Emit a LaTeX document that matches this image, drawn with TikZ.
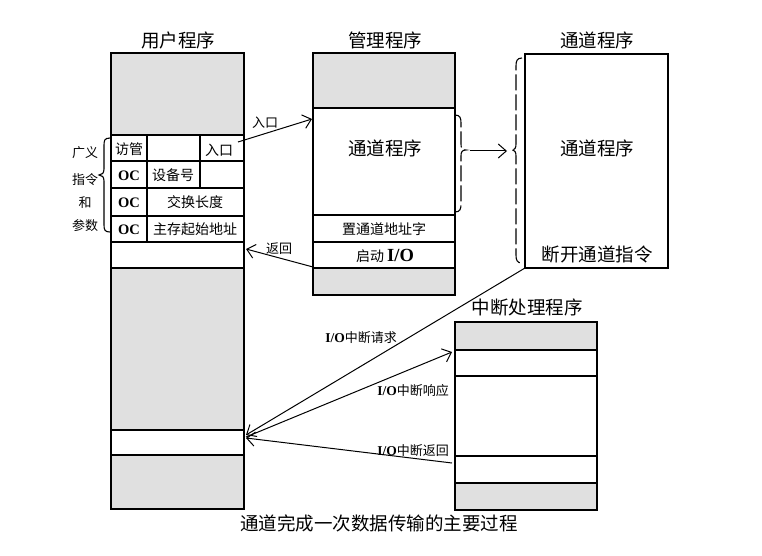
\documentclass[tikz,border=0pt]{standalone}
\usepackage{fontspec}
\setmainfont{Liberation Serif}
\newfontfamily\cjk{Noto Sans CJK SC}
\usetikzlibrary{arrows.meta}
\definecolor{gfill}{RGB}{224,224,224}
\tikzset{
  outerbox/.style={draw=black, line width=2.8pt},
  innerline/.style={draw=black, line width=1.9pt},
  grayfill/.style={fill=gfill},
  arr/.style={draw=black, line width=1pt, -{Straight Barb[length=8pt,width=14pt,line width=1pt]}},
  big/.style={font=\cjk\fontsize{18.5}{19}\selectfont, inner sep=0pt},
  small/.style={font=\cjk\fontsize{14}{14}\selectfont, inner sep=0pt},
  lab/.style={font=\cjk\fontsize{13}{13}\selectfont, inner sep=0pt},
  dbrace/.style={draw=black, line width=1.1pt, dash pattern=on 16pt off 4pt},
}
\newcommand{\occ}{{\fontsize{14.5}{14.5}\selectfont\bfseries OC}}
\newcommand{\io}{{\rmfamily\bfseries I/O}}
\begin{document}
\begin{tikzpicture}[x=1pt,y=-1pt]
\useasboundingbox[fill=white] (0,0) rectangle (762,556);

% ---------- user program box ----------
\fill[grayfill] (111,53) rectangle (244,135);
\fill[grayfill] (111,268) rectangle (244,430);
\fill[grayfill] (111,455) rectangle (244,509);
\foreach \y in {135,161,188,216,242,268,430,455}
  \draw[innerline] (111,\y) -- (244,\y);
\draw[innerline] (147,135) -- (147,242);
\draw[innerline] (200,135) -- (200,188);
\draw[outerbox] (111,53) rectangle (244,509);

% ---------- manager box ----------
\fill[grayfill] (313,53) rectangle (455,108);
\fill[grayfill] (313,268) rectangle (455,295);
\foreach \y in {108,215,242,268}
  \draw[innerline] (313,\y) -- (455,\y);
\draw[outerbox] (313,53) rectangle (455,295);

% ---------- channel program box ----------
\draw[outerbox] (525,54) rectangle (668,268);

% ---------- interrupt box ----------
\fill[grayfill] (455,322) rectangle (597,350);
\fill[grayfill] (455,483) rectangle (597,510);
\foreach \y in {350,376,456,483}
  \draw[innerline] (455,\y) -- (597,\y);
\draw[outerbox] (455,322) rectangle (597,510);

% ---------- titles ----------
\node[big] (tuser) at (178,40) {用户程序};
\node[big] (tman) at (385,40) {管理程序};
\node[big] (tchan) at (597,40) {通道程序};
\node[big] (tint) at (527,307) {中断处理程序};

% ---------- user box cells ----------
\node[small] (c11) at (129,149) {访管};
\node[small] (c13) at (219,150) {入口};
\node (c21) at (129,176) {\occ};
\node[small] (c22) at (173,175) {设备号};
\node (c31) at (129,203) {\occ};
\node[small] (c32) at (195,202) {交换长度};
\node (c41) at (129,230) {\occ};
\node[small] (c42) at (195,229) {主存起始地址};

% left brace and labels
\draw[line width=1.1pt] (110,138) .. controls (104,138) and (104,141) .. (104,146)
  -- (104,169) .. controls (104,173) and (102,175) .. (99,175)
  .. controls (102,175) and (104,177) .. (104,181)
  -- (104,225) .. controls (104,230) and (105,232) .. (110,232);
\node[lab] (l1) at (85,153) {广义};
\node[lab] (l2) at (85,180) {指令};
\node[lab] (l3) at (85,203) {和};
\node[lab] (l4) at (85,226) {参数};

% ---------- manager box texts ----------
\node[big] (m1) at (385,148) {通道程序};
\node[small] (m2) at (384,229) {置通道地址字};
\node[small] (m3) at (385,256) {启动 {\fontsize{18.5}{18.5}\selectfont\io}};

% ---------- channel box texts ----------
\node[big] (ch1) at (597,148) {通道程序};
\node[big] (ch2) at (597,254) {断开通道指令};

% ---------- dashed braces ----------
\draw[dbrace] (455,115) .. controls (460,115) and (461,118) .. (461,123)
  -- (461,144) .. controls (461,148) and (462,150) .. (466,150)
  .. controls (462,150) and (461,152) .. (461,156)
  -- (461,204) .. controls (461,209) and (460,212) .. (455,212);
\draw[dbrace] (522,58) .. controls (517,58) and (516,61) .. (516,66)
  -- (516,144) .. controls (516,148) and (515,150) .. (511,150)
  .. controls (515,150) and (516,152) .. (516,156)
  -- (516,255) .. controls (516,260) and (517,263) .. (522,263);

% ---------- coordinates for connectors ----------
\coordinate (entS) at (238,142);
\coordinate (entE) at (312,119);
\coordinate (retS) at (313,267);
\coordinate (retE) at (246,249);
\coordinate (brA) at (470,151);
\coordinate (brB) at (507,151);
\coordinate (reqS) at (525,268);
\coordinate (reqE) at (246,435);
\coordinate (rspS) at (246,437);
\coordinate (rspE) at (452,352);
\coordinate (ibS) at (452,463);
\coordinate (ibE) at (246,438);

\draw[arr] (entS) -- (entE);
\draw[arr] (retS) -- (retE);
\draw[arr] (brA) -- (brB);
\draw[arr] (reqS) -- (reqE);
\draw[arr] (rspS) -- (rspE);
\draw[arr] (ibS) -- (ibE);

\node[lab] (aent) at (265,123) {入口};
\node[lab] (aret) at (279,249) {返回};
\node[lab] (areq) at (361,338) {{\fontsize{13.5}{13.5}\selectfont\io}中断请求};
\node[lab] (arsp) at (413,391) {{\fontsize{13.5}{13.5}\selectfont\io}中断响应};
\node[lab] (aib) at (413,451) {{\fontsize{13.5}{13.5}\selectfont\io}中断返回};

% ---------- caption ----------
\node[big] (cap) at (379,523) {通道完成一次数据传输的主要过程};
\end{tikzpicture}
\end{document}
